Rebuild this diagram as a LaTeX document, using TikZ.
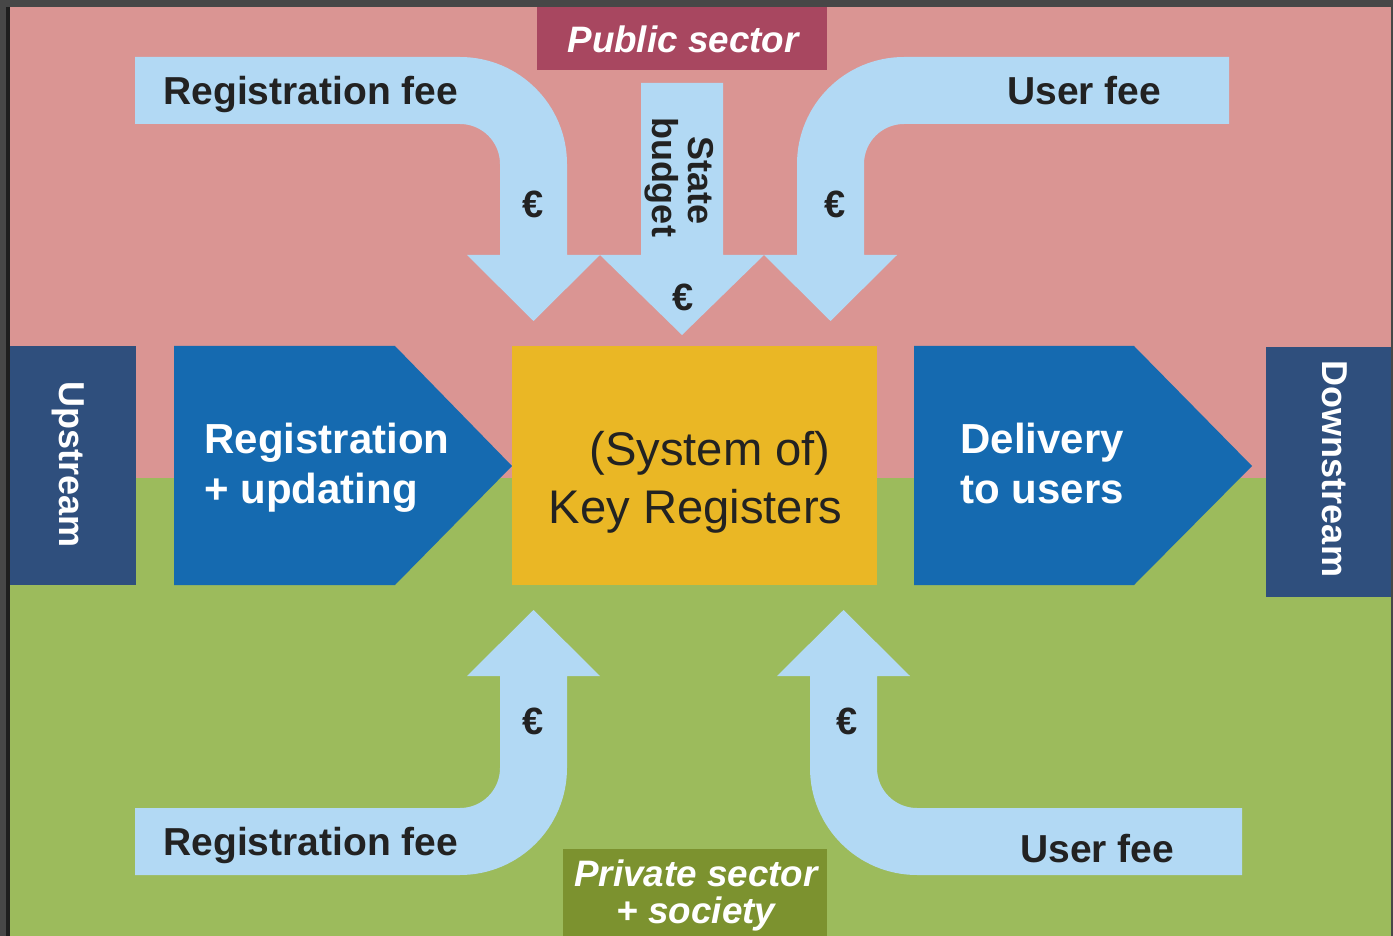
\documentclass[tikz,border=0pt]{standalone}
\usepackage{fontspec}
\setmainfont{Liberation Sans}
\definecolor{framegray}{HTML}{474747}
\definecolor{framedark}{HTML}{1E1E1E}
\definecolor{pinkbg}{HTML}{DA9593}
\definecolor{greenbg}{HTML}{9CBB5C}
\definecolor{flowblue}{HTML}{B2D9F4}
\definecolor{publicred}{HTML}{A84760}
\definecolor{privateolive}{HTML}{7C922F}
\definecolor{navybox}{HTML}{2F4F7D}
\definecolor{stepblue}{HTML}{156AB0}
\definecolor{regyellow}{HTML}{EAB725}
\definecolor{txtdark}{HTML}{222222}
\begin{document}
\begin{tikzpicture}[x=0.5pt,y=-0.5pt,
  lbl/.style={inner sep=0pt, text=txtdark},
  feefont/.style={font=\fontsize{19.5}{23}\selectfont\bfseries},
  eurofont/.style={font=\fontsize{19}{23}\selectfont\bfseries},
  sidefont/.style={font=\fontsize{18}{22}\selectfont\bfseries, text=white, inner sep=0pt},
  stagefont/.style={font=\fontsize{21}{25}\selectfont\bfseries, text=white, inner sep=0pt},
  keyfont/.style={font=\fontsize{23.6}{28}\selectfont, text=txtdark, inner sep=0pt},
  sectorfont/.style={font=\fontsize{18.4}{22}\selectfont\bfseries\itshape, text=white, inner sep=0pt},
  flow/.style={fill=flowblue}]
\useasboundingbox (0,0) rectangle (1393,936);
% background and frame
\fill[framegray] (0,0) rectangle (1393,936);
\fill[framedark] (6,7) rectangle (10,936);
\fill[pinkbg] (10,7) rectangle (1391,478);
\fill[greenbg] (10,478) rectangle (1391,936);

% sector labels
\fill[publicred] (537,7) rectangle (827,70);
\node[sectorfont, anchor=base] (pub) at (683,53) {Public sector};
\fill[privateolive] (563,849) rectangle (827,936);
\node[sectorfont, anchor=base] (priv1) at (696,886) {Private sector};
\node[sectorfont, anchor=base] (priv2) at (696,923) {+ society};

% top-left flow arrow (registration fee)
\fill[flow] (135,57) -- (460,57) .. controls (519.1,57) and (567,104.9) .. (567,164)
  -- (567,255) -- (600,255) -- (533.5,321) -- (467,255) -- (500,255) -- (500,164)
  .. controls (500,141.9) and (482.1,124) .. (460,124) -- (135,124) -- cycle;
% state budget arrow
\fill[flow] (641,83) -- (723,83) -- (723,255) -- (764,255) -- (682,335) -- (600,255)
  -- (641,255) -- cycle;
% top-right flow arrow (user fee)
\fill[flow] (1229,57) -- (904,57) .. controls (844.9,57) and (797,104.9) .. (797,164)
  -- (797,255) -- (764,255) -- (830.5,321) -- (897,255) -- (864,255) -- (864,164)
  .. controls (864,141.9) and (881.9,124) .. (904,124) -- (1229,124) -- cycle;
% bottom-left flow arrow
\fill[flow] (135,875) -- (460,875) .. controls (519.1,875) and (567,827.1) .. (567,768)
  -- (567,676) -- (600,676) -- (533.5,610) -- (467,676) -- (500,676) -- (500,768)
  .. controls (500,790.1) and (482.1,808) .. (460,808) -- (135,808) -- cycle;
% bottom-right flow arrow
\fill[flow] (1242,875) -- (917,875) .. controls (857.9,875) and (810,827.1) .. (810,768)
  -- (810,676) -- (777,676) -- (843.5,610) -- (910,676) -- (877,676) -- (877,768)
  .. controls (877,790.1) and (894.9,808) .. (917,808) -- (1242,808) -- cycle;

% flow labels
\node[lbl, feefont, anchor=base west] (regfeetop) at (163,105) {Registration fee};
\node[lbl, feefont, anchor=base west] (userfeetop) at (1007,105) {User fee};
\node[lbl, feefont, anchor=base west] (regfeebot) at (163,855) {Registration fee};
\node[lbl, feefont, anchor=base west] (userfeebot) at (1020,862) {User fee};
\node[lbl, font=\fontsize{18}{22}\selectfont\bfseries, rotate=-90, anchor=base] (state) at (688,181) {State};
\node[lbl, font=\fontsize{18}{22}\selectfont\bfseries, rotate=-90, anchor=base] (budget) at (652,177) {budget};
\node[lbl, eurofont] (eur1) at (533,204) {€};
\node[lbl, eurofont] (eur2) at (683,297) {€};
\node[lbl, eurofont] (eur3) at (835,204) {€};
\node[lbl, eurofont] (eur4) at (533,721) {€};
\node[lbl, eurofont] (eur5) at (847,721) {€};

% upstream / downstream boxes
\fill[navybox] (10,346) rectangle (136,585);
\node[sidefont, rotate=-90, anchor=base] (up) at (60,465) {Upstream};
\fill[navybox] (1266,347) rectangle (1391,597);
\node[sidefont, rotate=-90, anchor=base] (down) at (1322,469) {Downstream};

% process stages
\fill[stepblue] (174,346) -- (395,346) -- (512,466) -- (395,585) -- (174,585) -- cycle;
\node[stagefont, anchor=base west] (reg1) at (204,453) {Registration};
\node[stagefont, anchor=base west] (reg2) at (204,503) {+ updating};
\fill[regyellow] (512,346) rectangle (877,585);
\node[keyfont, anchor=base] (sys) at (710,466) {(System of)};
\node[keyfont, anchor=base] (key) at (695.5,523) {Key Registers};
\fill[stepblue] (914,346) -- (1134,346) -- (1252,466) -- (1134,585) -- (914,585) -- cycle;
\node[stagefont, anchor=base west] (del1) at (960,453) {Delivery};
\node[stagefont, anchor=base west] (del2) at (960,503) {to users};
\end{tikzpicture}
\end{document}
